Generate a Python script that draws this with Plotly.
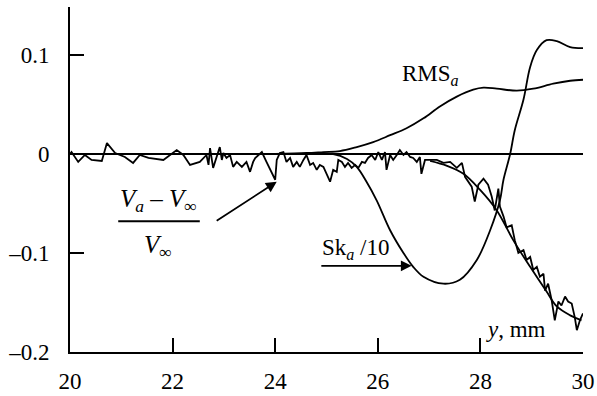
import plotly.graph_objects as go

# Noisy velocity-deficit signal (Va - Vinf)/Vinf
v_x = [20.0, 20.03, 20.16, 20.29, 20.42, 20.62, 20.72, 20.88, 21.07, 21.23, 21.36, 21.53, 21.82,
       22.08, 22.21, 22.34, 22.53, 22.66, 22.70, 22.73, 22.79, 22.86, 22.92, 22.96, 22.99,
       23.05, 23.12, 23.18, 23.25, 23.35, 23.44, 23.51, 23.57, 23.61, 23.74, 23.83, 24.00,
       24.03, 24.09, 24.16, 24.22, 24.29, 24.35, 24.42, 24.48, 24.55, 24.61, 24.68, 24.74,
       24.81, 24.87, 24.94, 25.00, 25.07, 25.13, 25.20, 25.23, 25.30, 25.36, 25.42, 25.49,
       25.56, 25.62, 25.69, 25.75, 25.81, 25.88, 25.95, 26.01, 26.08, 26.14, 26.17, 26.24,
       26.30, 26.37, 26.43, 26.50, 26.56, 26.63, 26.69, 26.76, 26.82, 26.85, 26.92, 27.02,
       27.15, 27.28, 27.41, 27.54, 27.64, 27.70, 27.76, 27.83, 27.89, 27.96, 28.06, 28.15,
       28.22, 28.28, 28.35, 28.38, 28.45, 28.51, 28.61, 28.67, 28.74, 28.84, 28.90, 28.97,
       29.03, 29.10, 29.16, 29.23, 29.26, 29.32, 29.39, 29.45, 29.52, 29.58, 29.65, 29.71,
       29.78, 29.84, 29.88, 29.94, 30.00]
v_y = [0.0, 0.002, -0.008, -0.001, -0.006, -0.007, 0.011, 0.001, -0.003, -0.009, -0.001, -0.004, -0.006,
       0.004, -0.001, -0.011, -0.008, -0.001, -0.011, 0.006, -0.014, -0.003, 0.007, -0.006, 0.001,
       -0.004, -0.001, -0.013, -0.008, -0.013, -0.008, -0.018, -0.008, -0.004, 0.002, -0.008, -0.026,
       -0.006, 0.001, 0.002, -0.008, -0.004, -0.013, -0.008, -0.013, -0.006, -0.001, -0.011, -0.009,
       -0.016, -0.011, -0.013, -0.020, -0.028, -0.016, -0.018, -0.006, -0.008, -0.013, -0.009, -0.014,
       -0.011, -0.014, -0.008, -0.009, -0.004, -0.001, -0.006, 0.002, -0.006, 0.002, -0.016, -0.001,
       -0.006, -0.001, 0.004, -0.001, 0.002, -0.003, -0.004, -0.008, -0.003, -0.020, -0.006, -0.006,
       -0.006, -0.009, -0.008, -0.014, -0.009, -0.023, -0.028, -0.033, -0.048, -0.031, -0.025, -0.031,
       -0.043, -0.057, -0.035, -0.053, -0.063, -0.074, -0.072, -0.087, -0.100, -0.097, -0.107, -0.104,
       -0.117, -0.114, -0.124, -0.121, -0.138, -0.131, -0.148, -0.168, -0.149, -0.153, -0.144, -0.149,
       -0.151, -0.165, -0.178, -0.168, -0.161]

# Smoothed velocity-deficit fit
vs_x = [27.02, 27.35, 27.67, 27.99, 28.32, 28.64, 28.97, 29.29, 29.49, 29.75, 29.97]
vs_y = [-0.007, -0.012, -0.020, -0.036, -0.057, -0.087, -0.114, -0.139, -0.154, -0.163, -0.168]

# RMS_a
rms_x = [24.0, 24.61, 24.94, 25.26, 25.59, 25.91, 26.24, 26.56, 26.89, 27.21, 27.54, 27.86,
         28.06, 28.32, 28.71, 29.03, 29.42, 29.75, 30.0]
rms_y = [0.0, 0.001, 0.002, 0.003, 0.007, 0.012, 0.019, 0.026, 0.036, 0.048, 0.058, 0.065,
         0.067, 0.066, 0.064, 0.066, 0.071, 0.074, 0.075]

# Sk_a / 10
sk_x = [24.5, 25.13, 25.4, 25.59, 25.78, 25.98, 26.24, 26.50, 26.69, 26.89, 27.28, 27.60,
        27.93, 28.19, 28.38, 28.45, 28.58, 28.67, 28.84, 28.97, 29.10, 29.29, 29.49, 29.75, 30.0]
sk_y = [0.0, 0.0, -0.005, -0.013, -0.028, -0.047, -0.077, -0.100, -0.114, -0.124, -0.131, -0.127,
        -0.107, -0.077, -0.047, -0.026, 0.0, 0.024, 0.055, 0.088, 0.105, 0.115, 0.114, 0.108, 0.107]

x_ticks = [20, 22, 24, 26, 28, 30]
x_tick_labels = ["20", "22", "24", "26", "28", "30"]
y_ticks = [-0.2, -0.1, 0, 0.1]
y_tick_labels = ["–0.2", "–0.1", "0", "0.1"]

FONT = "Liberation Serif, Times New Roman, serif"

fig = go.Figure()
fig.add_trace(go.Scatter(x=v_x, y=v_y, mode="lines", line=dict(color="black", width=1.8)))
fig.add_trace(go.Scatter(x=vs_x, y=vs_y, mode="lines", line=dict(color="black", width=1.8, shape="spline")))
fig.add_trace(go.Scatter(x=rms_x, y=rms_y, mode="lines", line=dict(color="black", width=1.8, shape="spline")))
fig.add_trace(go.Scatter(x=sk_x, y=sk_y, mode="lines", line=dict(color="black", width=1.8, shape="spline")))

ann_font = dict(family=FONT, size=23, color="black")
frac_font = dict(family=FONT, size=25, color="black")
fig.add_annotation(x=26.43, y=0.080, xref="x", yref="y", text="RMS<sub><i>a</i></sub>",
                   showarrow=False, xanchor="left", yanchor="middle", font=ann_font)
fig.add_annotation(x=25.56, y=-0.096, xref="x", yref="y", text="Sk<sub><i>a</i></sub> /10",
                   showarrow=False, xanchor="center", yanchor="middle", font=ann_font)
fig.add_annotation(x=26.66, y=-0.113, ax=24.87, ay=-0.113, xref="x", yref="y", axref="x", ayref="y",
                   text="", showarrow=True, arrowhead=2, arrowsize=1.2, arrowwidth=1.8, arrowcolor="black")
fig.add_annotation(x=21.73, y=-0.0465, xref="x", yref="y",
                   text="<i>V</i><sub><i>a</i></sub> – <i>V</i><sub>∞</sub>",
                   showarrow=False, xanchor="center", yanchor="middle", font=frac_font)
fig.add_annotation(x=21.72, y=-0.093, xref="x", yref="y", text="<i>V</i><sub>∞</sub>",
                   showarrow=False, xanchor="center", yanchor="middle", font=frac_font)
fig.add_shape(type="line", x0=20.94, x1=22.53, y0=-0.068, y1=-0.068, xref="x", yref="y",
              line=dict(color="black", width=2))
fig.add_annotation(x=24.03, y=-0.028, ax=22.83, ay=-0.0685, xref="x", yref="y", axref="x", ayref="y",
                   text="", showarrow=True, arrowhead=2, arrowsize=1.2, arrowwidth=1.8, arrowcolor="black")
fig.add_annotation(x=28.69, y=-0.177, xref="x", yref="y", text="<i>y</i>, mm",
                   showarrow=False, xanchor="center", yanchor="middle", font=ann_font)

fig.update_layout(
    width=597, height=396,
    margin=dict(l=70, r=14, t=7, b=44),
    paper_bgcolor="white", plot_bgcolor="white",
    showlegend=False,
    font=dict(family=FONT, size=23, color="black"),
    xaxis=dict(range=[20, 30], tickvals=x_ticks, ticktext=x_tick_labels, automargin=False,
               showline=True, linecolor="black", linewidth=2, mirror=False,
               ticks="inside", ticklen=14, tickwidth=2, tickcolor="black",
               showgrid=False, zeroline=False, ticklabelstandoff=7,
               tickfont=dict(family=FONT, size=23)),
    yaxis=dict(range=[-0.2, 0.1485], tickvals=y_ticks, ticktext=y_tick_labels, automargin=False,
               showline=True, linecolor="black", linewidth=2, mirror=False,
               ticks="inside", ticklen=14, tickwidth=2, tickcolor="black",
               showgrid=False, zeroline=True, zerolinecolor="black", zerolinewidth=2,
               ticklabelstandoff=14, tickfont=dict(family=FONT, size=23)),
)

fig.write_html("out.html", config={"displayModeBar": False},
               post_script="document.body.style.margin='0';")
